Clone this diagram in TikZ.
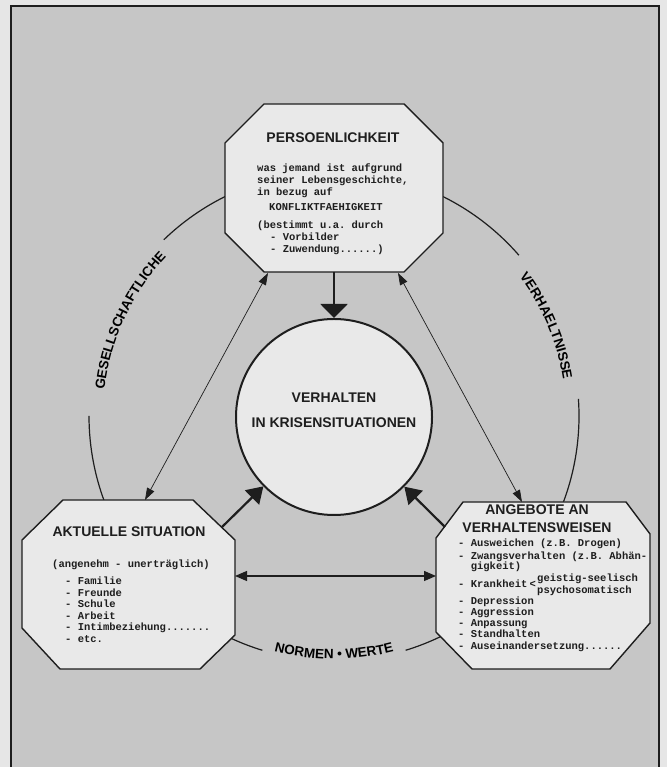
\documentclass[tikz,border=0pt]{standalone}
\usepackage{fontspec}
\setmainfont{Liberation Sans}
\setsansfont{Liberation Sans}
\setmonofont{Liberation Mono}
\usetikzlibrary{arrows.meta,decorations.text,calc}
\definecolor{pagebg}{HTML}{E6E6E6}
\definecolor{panel}{HTML}{C6C6C6}
\definecolor{boxfill}{HTML}{E9E9E9}
\definecolor{ink}{HTML}{1E1E1E}
\newcommand{\monof}{\fontsize{10.5}{11}\selectfont\ttfamily\bfseries}
\newcommand{\titf}{\fontsize{14}{16}\selectfont\sffamily\bfseries}
\newcommand{\arcf}{\fontsize{13.5}{14}\selectfont\sffamily\bfseries}
\begin{document}
\begin{tikzpicture}[x=1pt,y=1pt,
  mono/.style={anchor=base west, inner sep=0pt, font=\monof, text=ink},
  ttl/.style={anchor=base, inner sep=0pt, font=\titf, text=ink},
  oct/.style={draw=ink, line width=1.4pt, fill=boxfill, line join=miter},
  ring/.style={draw=ink, line width=1.2pt},
  thickarrow/.style={draw=ink, line width=2.2pt, -{Triangle[length=16pt,width=20pt]}},
  toparrow/.style={draw=ink, line width=2.2pt, -{Triangle[length=14pt,width=27pt]}},
  thinarrow/.style={draw=ink, line width=0.7pt, {Triangle[length=12pt,width=8pt]}-{Triangle[length=12pt,width=8pt]}},
  midarrow/.style={draw=ink, line width=1.3pt, {Triangle[length=12pt,width=10pt]}-{Triangle[length=12pt,width=10pt]}},
]
\useasboundingbox (0,0) rectangle (667,767);
\fill[pagebg] (0,0) rectangle (667,767);
\begin{scope}
  \clip (0,0) rectangle (667,767);
  \draw[ink, line width=2pt, fill=panel] (11,761) rectangle (659,-10);
\end{scope}

\coordinate (O) at (334,351);
% outer ring segments
\draw[ring] ($(O)+(114:245pt)$) arc[start angle=114, end angle=134, radius=245pt];
\draw[ring] ($(O)+(180:245pt)$) arc[start angle=180, end angle=202, radius=245pt];
\draw[ring] ($(O)+(66:245pt)$) arc[start angle=66, end angle=41, radius=245pt];
\draw[ring] ($(O)+(4:245pt)$) arc[start angle=4, end angle=-22, radius=245pt];
\draw[ring] ($(O)+(238:245pt)$) arc[start angle=238, end angle=253, radius=245pt];
\draw[ring] ($(O)+(287:245pt)$) arc[start angle=287, end angle=302, radius=245pt];

% ring labels
\path[decorate, decoration={text along path, text align=center,
  text={|\arcf|GESELLSCHAFTLICHE}}]
  ($(O)+(178:231pt)$) arc[start angle=178, end angle=132, radius=231pt];
\path[decorate, decoration={text along path, text align=center,
  text={|\arcf|VERHAELTNISSE}}]
  ($(O)+(46:232pt)$) arc[start angle=46, end angle=0, radius=232pt];
\path[decorate, decoration={text along path, text align=center,
  text={|\arcf|NORMEN • WERTE}}]
  ($(O)+(248:243pt)$) arc[start angle=248, end angle=292, radius=243pt];

% octagons
\draw[oct] (264,663)--(404,663)--(443,624)--(443,534)--(404,495)--(264,495)--(225,534)--(225,624)--cycle;
\draw[oct] (63,267)--(193,267)--(235,227)--(235,132)--(200,98)--(60,98)--(22,139)--(22,227)--cycle;
\draw[oct] (463,265)--(626,265)--(650,233)--(650,144)--(610,98)--(472,98)--(436,135)--(436,229)--cycle;

% centre circle
\node[circle, draw=ink, line width=2pt, fill=boxfill, minimum size=196pt, inner sep=0pt] (C) at (334,350) {};
\node[ttl] (c1) at (334,364) {VERHALTEN};
\node[ttl] (c2) at (334,339) {IN KRISENSITUATIONEN};

% connector end points on the octagons
\coordinate (pb) at (334,495);
\coordinate (lc) at (222,240);
\coordinate (rc) at (445,240);
\coordinate (lr) at (235,191);
\coordinate (rl) at (436,191);
\coordinate (ltop) at (145,267);
\coordinate (pbl) at (268,494);
\coordinate (pbr) at (398,494);
\coordinate (rtop) at (522,265);

\draw[toparrow] (pb) -- (C);
\draw[thickarrow] (lc) -- (C);
\draw[thickarrow] (rc) -- (C);
\draw[midarrow] (lr) -- (rl);
\draw[thinarrow] (ltop) -- (pbl);
\draw[thinarrow] (rtop) -- (pbr);

% top box text
\node[ttl] (p0) at (333,624) {PERSOENLICHKEIT};
\node[mono] (p1) at (257,595) {was jemand ist aufgrund};
\node[mono] (p2) at (257,583) {seiner Lebensgeschichte,};
\node[mono] (p3) at (257,571) {in bezug auf};
\node[mono] (p4) at (269,556) {KONFLIKTFAEHIGKEIT};
\node[mono] (p5) at (257,538) {(bestimmt u.a. durch};
\node[mono] (p6) at (270,526) {- Vorbilder};
\node[mono] (p7) at (270,514) {- Zuwendung......)};

% left box text
\node[ttl] (l0) at (129,230) {AKTUELLE SITUATION};
\node[mono] (l1) at (52,199) {(angenehm - unerträglich)};
\node[mono] (l2) at (65,182) {- Familie};
\node[mono] (l3) at (65,170.5) {- Freunde};
\node[mono] (l4) at (65,159) {- Schule};
\node[mono] (l5) at (65,147.5) {- Arbeit};
\node[mono] (l6) at (65,136) {- Intimbeziehung.......};
\node[mono] (l7) at (65,124) {- etc.};

% right box text
\node[ttl] (r0) at (537,252) {ANGEBOTE AN};
\node[ttl] (r1) at (537,234) {VERHALTENSWEISEN};
\node[mono] (r2) at (458,220) {- Ausweichen (z.B. Drogen)};
\node[mono] (r3) at (458,207) {- Zwangsverhalten (z.B. Abhän-};
\node[mono] (r4) at (470.6,197) {gigkeit)};
\node[mono] (r5) at (458,179) {- Krankheit};
\node[mono] (r5a) at (529.5,179) {<};
\node[mono] (r5b) at (537,185) {geistig-seelisch};
\node[mono] (r5c) at (537,173) {psychosomatisch};
\node[mono] (r6) at (458,162) {- Depression};
\node[mono] (r7) at (458,151) {- Aggression};
\node[mono] (r8) at (458,140) {- Anpassung};
\node[mono] (r9) at (458,129) {- Standhalten};
\node[mono] (r10) at (458,117) {- Auseinandersetzung......};
\end{tikzpicture}
\end{document}
